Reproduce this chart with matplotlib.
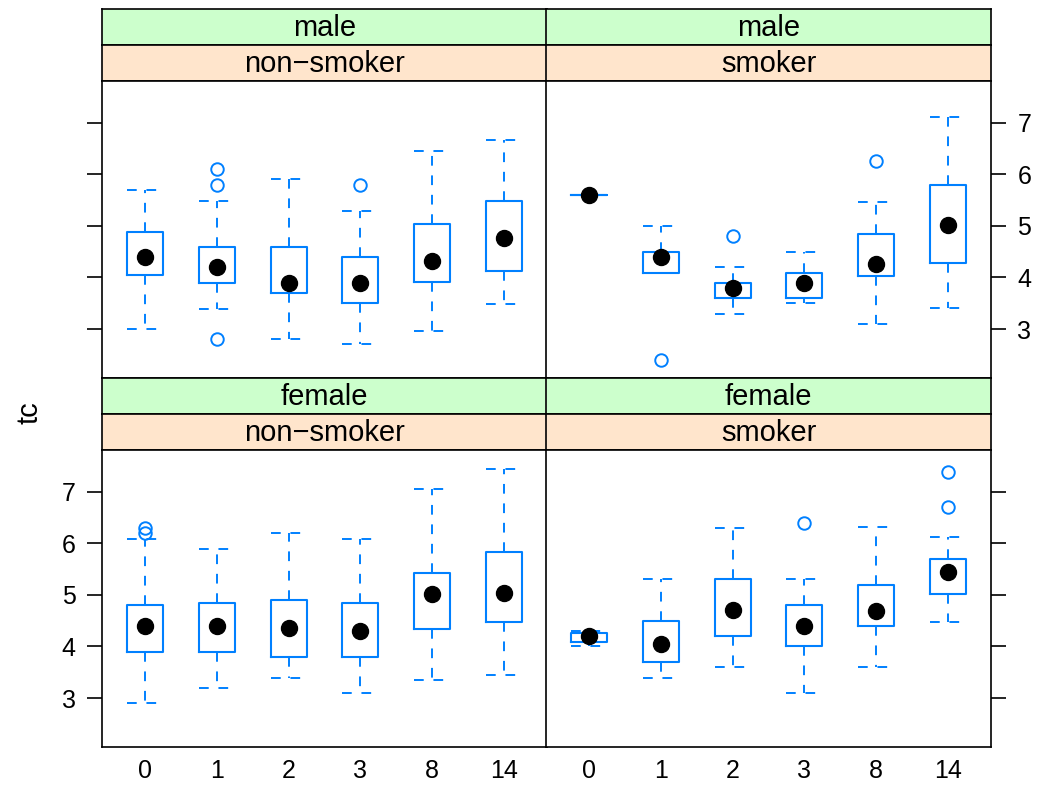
import matplotlib
matplotlib.use('Agg')
import matplotlib.pyplot as plt

plt.rcParams['font.family'] = ['Liberation Sans', 'DejaVu Sans']

doses = ['0', '1', '2', '3', '8', '14']
sex_levels = ['male', 'female']
smoke_levels = ['non\u2212smoker', 'smoker']

# five-number summaries per dose: (whislo, q1, med, q3, whishi), plus outliers
male_nonsmoker = [(3.00, 4.05, 4.40, 4.89, 5.70), (3.39, 3.90, 4.20, 4.60, 5.49),
                  (2.80, 3.69, 3.90, 4.60, 5.90), (2.70, 3.50, 3.90, 4.40, 5.29),
                  (2.96, 3.91, 4.31, 5.04, 6.45), (3.49, 4.13, 4.76, 5.49, 6.66)]
male_nonsmoker_out = [[], [6.10, 5.79, 2.80], [], [5.79], [], []]

male_smoker = [(5.60, 5.60, 5.60, 5.60, 5.60), (4.09, 4.09, 4.40, 4.50, 5.00),
               (3.30, 3.60, 3.80, 3.90, 4.20), (3.50, 3.60, 3.90, 4.09, 4.50),
               (3.10, 4.02, 4.27, 4.84, 5.47), (3.41, 4.29, 5.02, 5.79, 7.12)]
male_smoker_out = [[], [2.40], [4.80], [], [6.25], []]

female_nonsmoker = [(2.90, 3.90, 4.40, 4.80, 6.09), (3.19, 3.90, 4.40, 4.84, 5.89),
                    (3.39, 3.80, 4.35, 4.90, 6.20), (3.10, 3.80, 4.30, 4.84, 6.09),
                    (3.34, 4.33, 5.01, 5.43, 7.06), (3.44, 4.47, 5.03, 5.83, 7.45)]
female_nonsmoker_out = [[6.30, 6.20], [], [], [], [], []]

female_smoker = [(4.00, 4.09, 4.20, 4.26, 4.30), (3.39, 3.70, 4.05, 4.50, 5.30),
                 (3.60, 4.20, 4.70, 5.30, 6.29), (3.10, 4.00, 4.40, 4.80, 5.30),
                 (3.61, 4.40, 4.68, 5.19, 6.32), (4.48, 5.01, 5.45, 5.69, 6.13)]
female_smoker_out = [[], [], [], [6.40], [], [7.39, 6.70]]

panels = {
    ('male', 0): (male_nonsmoker, male_nonsmoker_out),
    ('male', 1): (male_smoker, male_smoker_out),
    ('female', 0): (female_nonsmoker, female_nonsmoker_out),
    ('female', 1): (female_smoker, female_smoker_out),
}

W, H = 1038, 785
fig = plt.figure(figsize=(W / 100, H / 100), dpi=100)

blue = '#0080ff'
green = '#ccffcc'
orange = '#ffe5cc'
fs_strip = 21
fs_tick = 18

col_x = [102, 546]
col_w = 445
row_top = [9, 378]   # top of green strip for each row (pixels)
strip_h = 36
plot_h = 297


def frac(x, y, w, h):
    return [x / W, 1 - (y + h) / H, w / W, h / H]


for r, sex in enumerate(sex_levels):
    for c in range(2):
        x0 = col_x[c]
        y0 = row_top[r]
        for k, (label, color) in enumerate([(sex, green), (smoke_levels[c], orange)]):
            sax = fig.add_axes(frac(x0, y0 + k * strip_h, col_w, strip_h))
            sax.set_facecolor(color)
            sax.set_xticks([])
            sax.set_yticks([])
            for sp in sax.spines.values():
                sp.set_linewidth(1.2)
            sax.text(0.5, 0.47, label, ha='center', va='center', fontsize=fs_strip,
                     transform=sax.transAxes)

        ax = fig.add_axes(frac(x0, y0 + 2 * strip_h, col_w, plot_h))
        summ, outs = panels[(sex, c)]
        stats = []
        for (lo, q1, med, q3, hi), fl in zip(summ, outs):
            stats.append(dict(whislo=lo, q1=q1, med=med, q3=q3, whishi=hi, fliers=fl))
        pos = list(range(1, len(doses) + 1))
        ax.bxp(stats, positions=pos, widths=0.5, capwidths=0.5, showcaps=True,
               boxprops=dict(color=blue, linewidth=1.5),
               whiskerprops=dict(color=blue, linewidth=1.4, linestyle=(0, (5, 5))),
               capprops=dict(color=blue, linewidth=1.4, linestyle=(0, (5, 5))),
               medianprops=dict(linewidth=0),
               flierprops=dict(marker='o', markerfacecolor='none',
                               markeredgecolor=blue, markersize=9, markeredgewidth=1.4))
        ax.plot(pos, [s[2] for s in summ], 'o', color='black', markersize=11.5, zorder=5)

        ax.set_xlim(0.4, 6.6)
        ax.set_ylim(2.05, 7.81)
        ax.set_yticks([3, 4, 5, 6, 7])
        for sp in ax.spines.values():
            sp.set_linewidth(1.2)

        # x axis only on bottom row
        ax.set_xticks(pos)
        if r == 1:
            ax.set_xticklabels(doses, fontsize=fs_tick)
            ax.tick_params(axis='x', length=0, pad=9)
        else:
            ax.tick_params(axis='x', length=0, labelbottom=False)

        # y axis alternating like lattice
        if c == 0:
            ax.tick_params(axis='y', left=True, right=False, direction='out',
                           length=11, width=1.2, labelleft=(r == 1),
                           labelsize=fs_tick, pad=8)
        else:
            ax.tick_params(axis='y', left=False, right=True, direction='out',
                           length=11, width=1.2, labelleft=False,
                           labelright=(r == 0), labelsize=fs_tick, pad=8)

fig.text(30 / W, 1 - 413 / H, 'tc', rotation=90, ha='center', va='center',
         fontsize=fs_strip)

fig.savefig('out.png', dpi=100)
